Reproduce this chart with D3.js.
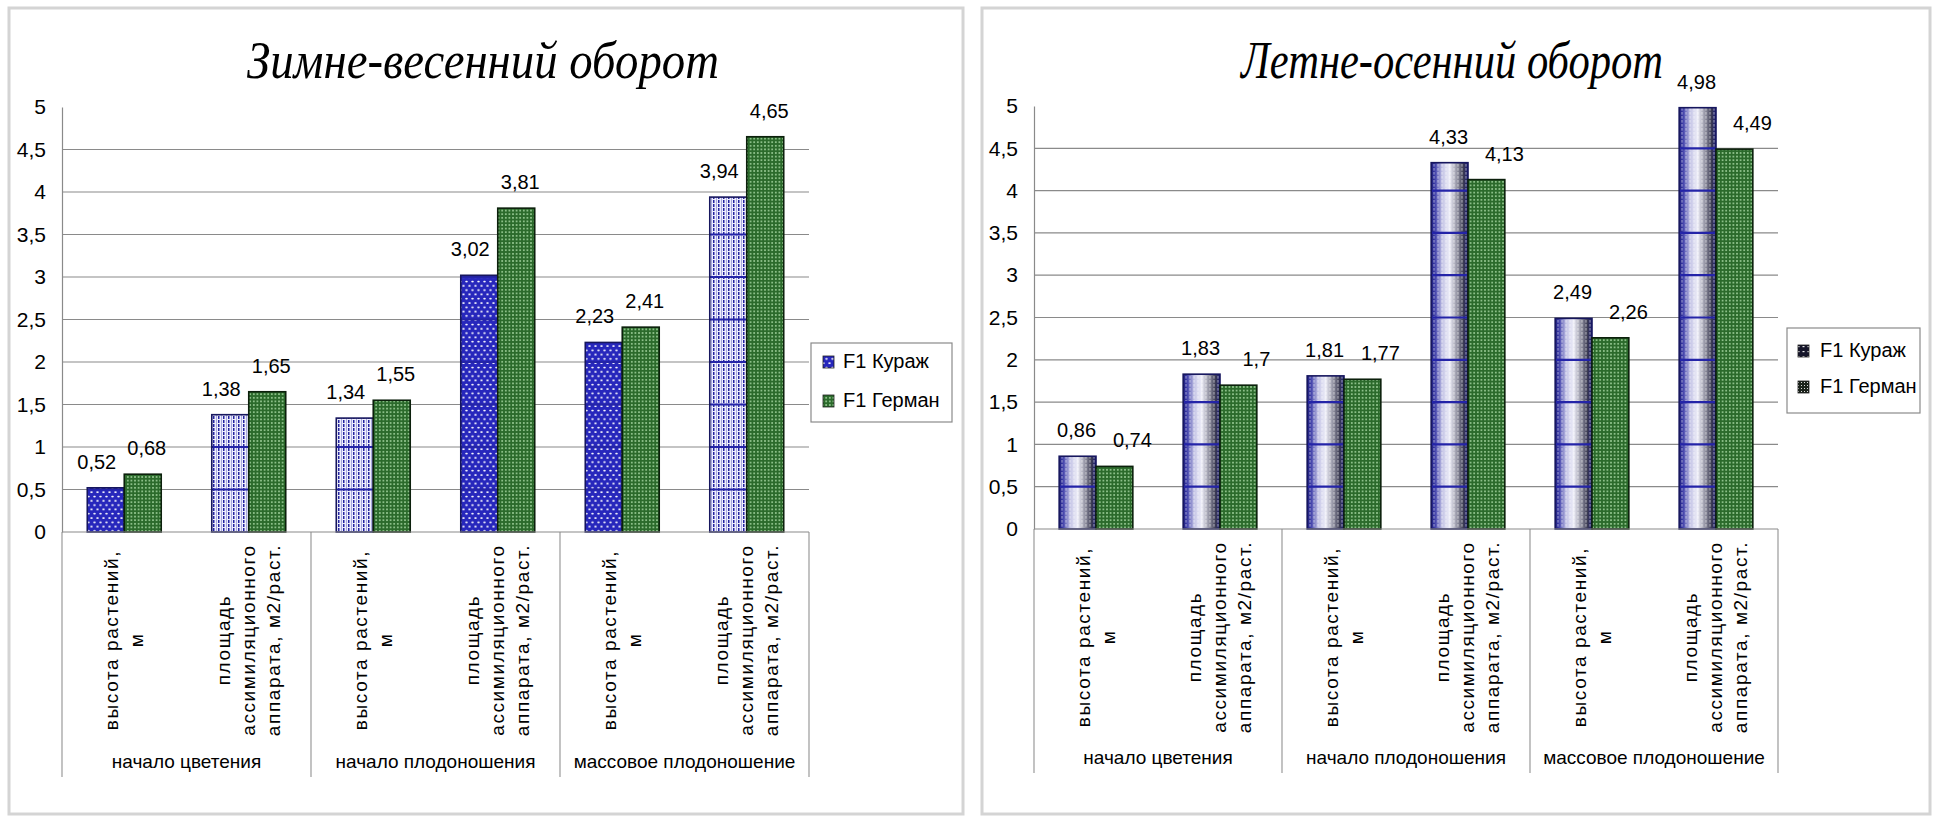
<!DOCTYPE html>
<html><head><meta charset="utf-8">
<script src="https://cdn.jsdelivr.net/npm/d3@7"></script>
<style>
body{margin:0;background:#fff}
svg{display:block}
text{font-family:"Liberation Sans",Arial,sans-serif;fill:#000}
</style>
</head><body>
<svg id="chart" width="1936" height="817"></svg>
<script>
// ---------- DATA ----------
const categoryLines = [
  ["высота растений,", "м"],
  ["площадь", "ассимиляционного", "аппарата, м2/раст."],
  ["высота растений,", "м"],
  ["площадь", "ассимиляционного", "аппарата, м2/раст."],
  ["высота растений,", "м"],
  ["площадь", "ассимиляционного", "аппарата, м2/раст."]
];
const stageLabels = ["начало цветения", "начало плодоношения", "массовое плодоношение"];
const seriesNames = ["F1 Кураж", "F1 Герман"];
const winterKurazh = [0.52, 1.38, 1.34, 3.02, 2.23, 3.94];
const winterGerman = [0.68, 1.65, 1.55, 3.81, 2.41, 4.65];
const summerKurazh = [0.86, 1.83, 1.81, 4.33, 2.49, 4.98];
const summerGerman = [0.74, 1.70, 1.77, 4.13, 2.26, 4.49];
const yTicks = [0, 0.5, 1, 1.5, 2, 2.5, 3, 3.5, 4, 4.5, 5];
const titles = ["Зимне-весенний оборот", "Летне-осенний оборот"];

// ---------- STYLE / LAYOUT ----------
const winterKurazhFill = ["dotsBlue", "stripesBlue", "stripesBlue", "dotsBlue", "dotsBlue", "stripesBlue"];

const panels = [
  { frame: [9, 8, 954, 806], title: titles[0], titleX: 483, titleY: 78, titleLen: 472,
    x0: 62, x1: 809, yTop: 107, yBot: 532, sepBottom: 777, catLabelY: 640, stageY: 768,
    values: [winterKurazh, winterGerman], labelDx: [-9, 4], kind: "winter",
    legend: { x: 811, y: 343, w: 141, h: 79, rows: [368, 407], swX: 823, textX: 843 } },
  { frame: [982, 8, 948, 806], title: titles[1], titleX: 1452, titleY: 78, titleLen: 422,
    x0: 1034, x1: 1778, yTop: 106, yBot: 529, sepBottom: 773, catLabelY: 637, stageY: 764,
    values: [summerKurazh, summerGerman], labelDx: [-1, 18], kind: "summer",
    legend: { x: 1787, y: 328, w: 133, h: 85, rows: [357, 393], swX: 1798, textX: 1820 } }
];

const fmt = d3.formatLocale({decimal: ",", thousands: "\u00a0", grouping: [3], currency: ["", ""]}).format("~g");

const svg = d3.select("#chart");
const defs = svg.append("defs");

// dotted blue
let p = defs.append("pattern").attr("id", "dotsBlue").attr("patternUnits", "userSpaceOnUse").attr("width", 6).attr("height", 8.6);
p.append("rect").attr("width", 6).attr("height", 8.6).attr("fill", "#2727bc");
p.append("ellipse").attr("cx", 1.5).attr("cy", 2).attr("rx", 1.3).attr("ry", 0.9).attr("fill", "#ffffff");
p.append("ellipse").attr("cx", 4.5).attr("cy", 6.3).attr("rx", 1.3).attr("ry", 0.9).attr("fill", "#ffffff");

// light stripes blue
p = defs.append("pattern").attr("id", "stripesBlue").attr("patternUnits", "userSpaceOnUse").attr("width", 5).attr("height", 4);
p.append("rect").attr("width", 5).attr("height", 4).attr("fill", "#eeeefc");
p.append("rect").attr("x", 1).attr("width", 1).attr("height", 4).attr("fill", "#a8a8e0");
p.append("rect").attr("x", 3).attr("width", 1.5).attr("height", 3).attr("fill", "#2424a0");

// green dots
p = defs.append("pattern").attr("id", "dotsGreen").attr("patternUnits", "userSpaceOnUse").attr("width", 3.6).attr("height", 3.6);
p.append("rect").attr("width", 3.6).attr("height", 3.6).attr("fill", "#2b6a2b");
p.append("circle").attr("cx", 1.8).attr("cy", 1.8).attr("r", 0.85).attr("fill", "#b4e4b0");

// cylinder gradient
const lg = defs.append("linearGradient").attr("id", "cylBlue").attr("x1", 0).attr("x2", 1).attr("y1", 0).attr("y2", 0);
[[0, "#1a1a78"], [0.1, "#3c3ca8"], [0.3, "#c4c4e6"], [0.5, "#eeeef8"], [0.72, "#8c8c9c"], [0.88, "#3a3a52"], [1, "#1a1a78"]]
  .forEach(([o, c]) => lg.append("stop").attr("offset", o).attr("stop-color", c));
// vertical dashed light stripes overlay
p = defs.append("pattern").attr("id", "vDash").attr("patternUnits", "userSpaceOnUse").attr("width", 4).attr("height", 4);
p.append("rect").attr("x", 1.5).attr("width", 1).attr("height", 2.6).attr("fill", "#ffffff").attr("opacity", 0.55);

// dark legend swatches
p = defs.append("pattern").attr("id", "darkA").attr("patternUnits", "userSpaceOnUse").attr("width", 5).attr("height", 5);
p.append("rect").attr("width", 5).attr("height", 5).attr("fill", "#15152a");
p.append("rect").attr("x", 2.5).attr("y", 1).attr("width", 2).attr("height", 1.2).attr("fill", "#e8e8e8");
p = defs.append("pattern").attr("id", "darkB").attr("patternUnits", "userSpaceOnUse").attr("width", 3).attr("height", 3);
p.append("rect").attr("width", 3).attr("height", 3).attr("fill", "#1a221a");
p.append("rect").attr("x", 1).attr("y", 1).attr("width", 1).attr("height", 1).attr("fill", "#d8d8d8");

function drawPanel(cfg) {
  const g = svg.append("g");
  const x0 = d3.scaleBand().domain(d3.range(categoryLines.length)).range([cfg.x0, cfg.x1]).padding(0);
  const step = x0.step();
  const x1 = d3.scaleBand().domain([0, 1]).range([step * 0.203, step * 0.797]).padding(0);
  const y = d3.scaleLinear().domain([0, 5]).range([cfg.yBot, cfg.yTop]);

  // frame
  g.append("rect").attr("x", cfg.frame[0]).attr("y", cfg.frame[1]).attr("width", cfg.frame[2]).attr("height", cfg.frame[3])
    .attr("fill", "none").attr("stroke", "#d4d4d4").attr("stroke-width", 3);

  // title (condensed italic serif)
  const t = g.append("text").attr("text-anchor", "middle")
    .style("font-family", '"Liberation Serif","Times New Roman",serif').style("font-style", "italic")
    .attr("font-size", 53).text(cfg.title);
  const natural = t.node().getComputedTextLength();
  t.attr("transform", `translate(${cfg.titleX},${cfg.titleY}) scale(${cfg.titleLen / natural},1)`);

  // gridlines
  g.append("g").selectAll("line").data(yTicks.filter(v => v > 0 && v < 5)).join("line")
    .attr("x1", cfg.x0).attr("x2", cfg.x1).attr("y1", d => y(d)).attr("y2", d => y(d))
    .attr("stroke", "#8a8a8a").attr("stroke-width", 1.2);

  // y axis
  const ax = g.append("g").attr("transform", `translate(${cfg.x0},0)`)
    .call(d3.axisLeft(y).tickValues(yTicks).tickSize(0).tickSizeOuter(0).tickPadding(16).tickFormat(fmt));
  ax.select(".domain").attr("stroke", "#8a8a8a").attr("stroke-width", 1.2);
  ax.selectAll("text").attr("font-size", 21).attr("fill", "#000").style("font-family", '"Liberation Sans",Arial,sans-serif');

  // category separators
  const seps = [x0(0), x0(2), x0(4), cfg.x1];
  g.append("g").selectAll("line").data(seps).join("line")
    .attr("x1", d => d).attr("x2", d => d).attr("y1", cfg.yBot).attr("y2", cfg.sepBottom)
    .attr("stroke", "#9a9a9a").attr("stroke-width", 1.2);

  // bars
  const barData = [];
  cfg.values.forEach((vals, s) => vals.forEach((v, i) => barData.push({s, i, v})));
  const bars = g.append("g").selectAll("g").data(barData).join("g");
  const bx = d => x0(d.i) + x1(d.s), bw = x1.bandwidth();
  bars.append("rect")
    .attr("x", bx).attr("y", d => y(d.v)).attr("width", bw).attr("height", d => y(0) - y(d.v))
    .attr("fill", d => d.s === 1 ? "url(#dotsGreen)" : (cfg.kind === "winter" ? `url(#${winterKurazhFill[d.i]})` : "url(#cylBlue)"));
  bars.filter(d => d.s === 0 && cfg.kind === "summer").append("rect")
    .attr("x", bx).attr("y", d => y(d.v)).attr("width", bw).attr("height", d => y(0) - y(d.v))
    .attr("fill", "url(#vDash)");
  // navy horizontal bands in blue bars at grid levels
  bars.filter(d => d.s === 0).each(function(d) {
    d3.select(this).selectAll("line.band").data(yTicks.filter(t => t > 0 && t < d.v)).join("line")
      .attr("class", "band").attr("x1", bx(d)).attr("x2", bx(d) + bw).attr("y1", t => y(t)).attr("y2", t => y(t))
      .attr("stroke", "#2424a8").attr("stroke-width", 2.2);
  });
  bars.append("rect")
    .attr("x", bx).attr("y", d => y(d.v)).attr("width", bw).attr("height", d => y(0) - y(d.v))
    .attr("fill", "none").attr("stroke", d => d.s === 0 ? "#16165e" : "#0c200c").attr("stroke-width", 1.6);

  // x axis line
  g.append("line").attr("x1", cfg.x0).attr("x2", cfg.x1).attr("y1", y(0)).attr("y2", y(0))
    .attr("stroke", "#8a8a8a").attr("stroke-width", 1.2);

  // data labels
  g.append("g").selectAll("text").data(barData).join("text")
    .attr("x", d => bx(d) + bw / 2 + cfg.labelDx[d.s]).attr("y", d => y(d.v) - 19)
    .attr("text-anchor", "middle").attr("font-size", 20).text(d => fmt(d.v));

  // rotated category labels
  const lineH = 25;
  const cl = g.append("g").selectAll("g").data(categoryLines).join("g");
  cl.each(function(lines, i) {
    const cx = x0(i) + step / 2;
    d3.select(this).selectAll("text").data(lines).join("text")
      .attr("transform", (t, k) => `translate(${cx + (k - (lines.length - 1) / 2) * lineH + 6},${cfg.catLabelY}) rotate(-90)`)
      .attr("text-anchor", "middle").attr("font-size", 19).style("letter-spacing", "1.6px").text(t => t);
  });

  // stage labels
  g.append("g").selectAll("text").data(stageLabels).join("text")
    .attr("x", (t, k) => (x0(k * 2) + x0(k * 2 + 1) + step) / 2).attr("y", cfg.stageY)
    .attr("text-anchor", "middle").attr("font-size", 19).text(t => t);

  // legend
  const L = cfg.legend;
  const lgG = g.append("g");
  lgG.append("rect").attr("x", L.x).attr("y", L.y).attr("width", L.w).attr("height", L.h)
    .attr("fill", "#fff").attr("stroke", "#8a8a8a").attr("stroke-width", 1.2);
  const swFill = cfg.kind === "winter" ? ["url(#dotsBlue)", "url(#dotsGreen)"] : ["url(#darkA)", "url(#darkB)"];
  const items = lgG.selectAll("g").data(seriesNames).join("g");
  items.append("rect").attr("x", L.swX).attr("y", (t, k) => L.rows[k] - 12).attr("width", 11).attr("height", 12)
    .attr("fill", (t, k) => swFill[k]).attr("stroke", "#222").attr("stroke-width", 0.8);
  items.append("text").attr("x", L.textX).attr("y", (t, k) => L.rows[k]).attr("font-size", 20).text(t => t);
}

panels.forEach(drawPanel);
</script>
</body></html>
